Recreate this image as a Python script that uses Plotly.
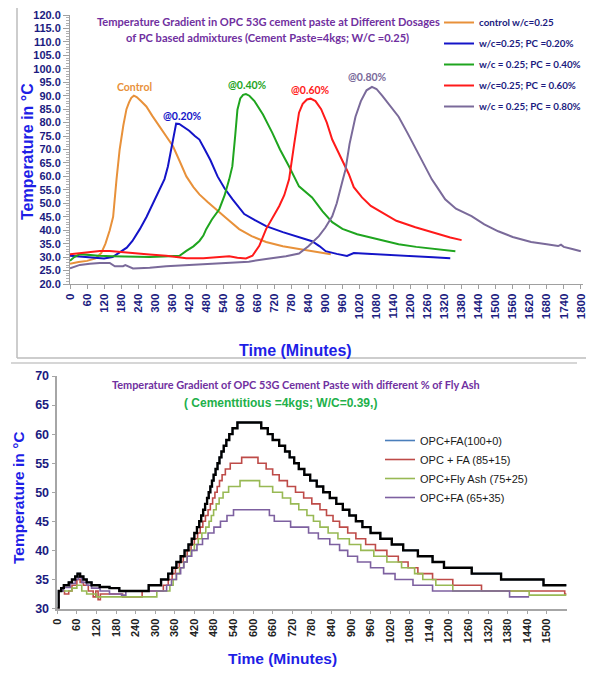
import plotly.graph_objects as go

# page is rendered with the browser's default 8px body margin
PAGE_W, PAGE_H, OFF = 594, 675, 8
W, H = PAGE_W - 2 * OFF, PAGE_H - 2 * OFF

# ---------------- Top chart data (PC admixture dosages) ----------------
ctrl_t = [0, 30, 60, 90, 110, 125, 140, 152, 164, 175, 188, 199, 208, 216, 225, 235, 250, 269, 290, 316,
          340, 363, 385, 410, 435, 456, 485, 516, 550, 596, 640, 691, 750, 807, 860, 919]
ctrl_v = [27.5, 28.2, 28.6, 29.5, 31.5, 35, 40, 45, 59, 70, 79, 85, 87.5, 89.2, 90, 89.5, 88, 86, 82.5, 78.6,
          75, 71.2, 66, 60, 56, 53.3, 50.5, 47.8, 44.5, 40.4, 37.8, 35.6, 34, 33, 32, 31.1]

pc20_t = [0, 30, 60, 90, 120, 150, 180, 200, 220, 246, 270, 290, 304, 318, 333, 345, 356, 366, 374, 385,
          400, 420, 440, 456, 475, 495, 520, 545, 573, 595, 614, 650, 691, 750, 807, 853, 880, 901, 940, 976,
          1000, 1050, 1100, 1158, 1220, 1280, 1340]
pc20_v = [30.5, 30.3, 30, 29.8, 29.5, 30, 32, 33.5, 36, 40.4, 45, 49.5, 52.7, 56, 59, 63.7, 70, 76, 79.6, 79.5,
          78.5, 77, 75, 73.7, 70, 66, 60, 55.5, 51.5, 48.5, 46, 43.8, 41.5, 39.3, 37.4, 35.9, 34, 32.2, 31.2, 30.4,
          31.5, 31.2, 30.8, 30.4, 30.2, 29.9, 29.6]

pc40_t = [0, 15, 35, 60, 100, 150, 200, 250, 281, 330, 386, 410, 435, 456, 470, 480, 500, 526, 545, 561,
          572, 582, 590, 600, 610, 620, 632, 650, 680, 713, 740, 772, 807, 853, 890, 924, 960, 1012, 1060, 1110,
          1158, 1220, 1290, 1358]
pc40_v = [28.6, 30, 31.1, 30.8, 30.5, 30.3, 30.2, 30, 30, 30.2, 30.5, 32.3, 34, 36, 38, 40.4, 44, 47.8, 53, 58.9,
          63.7, 75, 84.8, 89, 90.3, 90.6, 90, 88, 83, 76.2, 70, 63.7, 56.3, 52.2, 47, 43, 40.5, 38.5, 37.3, 36,
          34.8, 33.8, 32.9, 32.2]

pc60_t = [0, 50, 105, 140, 180, 222, 280, 339, 410, 470, 526, 561, 590, 620, 643, 667, 691, 715, 737, 755,
          772, 790, 807, 820, 835, 848, 865, 885, 905, 924, 950, 982, 1000, 1029, 1060, 1098, 1150, 1217, 1290, 1340,
          1380]
pc60_v = [31.1, 31.8, 32.3, 32.3, 32, 31.5, 31, 30.5, 29.6, 29.6, 29.9, 30.3, 29.8, 29.5, 30.5, 34.2, 40.4, 45, 48.9, 53,
          58.9, 72, 83.7, 87, 88.6, 88.9, 88, 85, 80, 73.7, 68, 61, 56, 52.2, 49, 46.7, 43.5, 41.1, 38.8, 37.3,
          36.3]

pc80_t = [0, 35, 70, 105, 140, 158, 187, 195, 222, 281, 339, 400, 456, 520, 573, 630, 691, 761, 807, 840,
          877, 900, 924, 940, 959, 971, 985, 1006, 1025, 1045, 1064, 1080, 1100, 1130, 1158, 1190, 1220, 1250, 1275, 1300,
          1322, 1360, 1415, 1460, 1509, 1560, 1625, 1680, 1720, 1730, 1740, 1770, 1800]
pc80_v = [25.8, 27.1, 27.5, 27.8, 27.8, 26.6, 26.6, 27, 25.8, 26, 26.6, 27, 27.4, 27.6, 27.9, 28.3, 29.3, 30.3, 31.3, 34,
          37.8, 41, 45.2, 50, 57.8, 62.6, 72, 82.2, 88, 92, 93.3, 92.5, 90, 86, 82.2, 76, 70, 64, 58.9, 55,
          51.5, 48, 45.2, 42.2, 39.6, 37.5, 35.6, 34.8, 34.1, 34.6, 33.8, 33, 32.2]

top_names = ["control w/c=0.25", "w/c=0.25; PC =0.20%", "w/c = 0.25; PC = 0.40%",
             "w/c=0.25; PC = 0.60%", "w/c = 0.25; PC = 0.80%"]
top_colors = ["#E8913A", "#1414C8", "#1FA51F", "#FF1A1A", "#7A6A9A"]
top_labels = ["Control", "@0.20%", "@0.40%", "@0.60%", "@0.80%"]
top_label_pos = [(228, 93.3), (396, 82.6), (625, 94.0), (849, 92.2), (1049, 97.0)]
top_xticks = list(range(0, 1801, 60))

# ---------------- Bottom chart data (Fly ash %) ----------------
fa0_t = [0, 4, 12, 20, 35, 45, 55, 62, 70, 80, 90, 105, 130, 160, 190, 265, 280, 318, 340, 352,
         365, 378, 390, 402, 412, 420, 428, 435, 441, 447, 453, 459, 464, 469, 474, 479, 485, 491, 497, 503,
         510, 518, 527, 537, 552, 625, 645, 660, 680, 698, 712, 726, 740, 757, 775, 795, 815, 835, 855, 875,
         895, 915, 935, 960, 990, 1025, 1060, 1105, 1150, 1185, 1270, 1360, 1490, 1560]
fa0_v = [30, 33, 33.5, 34, 34.5, 35, 35.5, 36, 35.5, 35, 34.5, 34, 33.7, 33.5, 33, 33, 34, 35, 36, 37,
         38, 39, 40, 41, 42, 43, 44, 45, 46, 47, 48, 49, 50, 51, 52, 53, 54, 55, 56, 57,
         58, 59, 60, 61, 62, 61, 60, 59, 58, 57, 56, 55, 54, 53, 52, 51, 50, 49, 48, 47,
         46, 45, 44, 43, 42, 41, 40, 39, 38, 37, 36, 35, 34, 34]

fa15_t = [0, 5, 15, 22, 35, 45, 60, 70, 80, 95, 110, 118, 125, 132, 180, 200, 250, 260, 325, 340,
          352, 362, 374, 386, 398, 410, 420, 430, 438, 446, 454, 462, 469, 476, 483, 490, 497, 505, 515, 530,
          565, 615, 640, 660, 680, 705, 730, 755, 780, 805, 825, 845, 865, 890, 915, 945, 975, 1010, 1045, 1075,
          1105, 1150, 1212, 1300, 1555, 1560]
fa15_v = [30, 33, 33, 32.5, 33, 34, 35, 34.5, 34, 33, 32, 33, 31.5, 32.5, 32.5, 32, 32, 33, 34, 35,
          36, 37, 38, 39, 40, 41, 42, 43, 44, 45, 46, 47, 48, 49, 50, 51, 52, 53, 54, 55,
          56, 55, 54, 53, 52, 51, 50, 49, 48, 47, 46, 45, 44, 43, 42, 41, 40, 39, 38, 37,
          36, 35, 34, 33, 32.5, 32.5]

fa25_t = [0, 5, 30, 45, 60, 75, 90, 120, 305, 345, 355, 365, 375, 387, 398, 410, 420, 432, 443, 455,
          465, 472, 479, 487, 496, 508, 525, 560, 620, 660, 690, 715, 740, 765, 785, 805, 830, 860, 895, 930,
          970, 1010, 1055, 1095, 1120, 1160, 1212, 1446, 1560]
fa25_v = [30, 33, 33, 33.5, 34, 33, 32.5, 32, 33, 34, 35, 36, 37, 38, 39, 40, 41, 42, 43, 44,
          45, 46, 47, 48, 49, 50, 51, 52, 51, 50, 49, 48, 47, 46, 45, 44, 43, 42, 41, 40,
          39, 38, 37, 36, 35, 34, 33, 32.3, 32.3]

fa35_t = [0, 5, 18, 40, 55, 64, 75, 90, 105, 131, 160, 197, 210, 335, 350, 365, 378, 388, 398, 412,
          428, 445, 462, 480, 500, 520, 540, 650, 665, 715, 770, 800, 835, 865, 890, 920, 960, 1000, 1035, 1090,
          1150, 1386, 1446]
fa35_v = [30, 33, 33.6, 34.3, 35, 35.3, 34.5, 34, 33.5, 33, 32.5, 32.3, 33, 34, 35, 36, 37, 38, 39, 40,
          41, 42, 43, 44, 45, 46, 47, 46, 45, 44, 43, 42, 41, 40, 39, 38, 37, 36, 35, 34,
          33, 32, 32]

bot_names = ["OPC+FA(100+0)", "OPC + FA (85+15)", "OPC+Fly Ash (75+25)", "OPC+FA (65+35)"]
bot_colors = ["#4A7EBB", "#BE4B48", "#98B954", "#7D60A0"]
bot_xticks = list(range(0, 1501, 60))

# ---------------- Build figure ----------------
NAVY = "#1B1B80"
BLUE = "#1E1EE6"
PURPLE = "#7030A0"
NARROW = "Liberation Sans Narrow, Liberation Sans, Arial"
CAL = "Lato, Open Sans, sans-serif"
ARIAL = "Liberation Sans, Arial"


def px(x):
    return min(1.0, max(0.0, (x - OFF) / W))


def py(y):
    return min(1.0, max(0.0, 1 - (y - OFF) / H))


fig = go.Figure()

top_series = [(ctrl_t, ctrl_v), (pc20_t, pc20_v), (pc40_t, pc40_v), (pc60_t, pc60_v), (pc80_t, pc80_v)]
for i, (t, v) in enumerate(top_series):
    fig.add_trace(go.Scatter(x=t, y=v, mode="lines", name=top_names[i], legendgroup="t%d" % i,
                             line=dict(color=top_colors[i], width=2), xaxis="x", yaxis="y", legend="legend"))

bot_series = [(fa0_t, fa0_v), (fa15_t, fa15_v), (fa25_t, fa25_v), (fa35_t, fa35_v)]
for i, (t, v) in enumerate(bot_series):
    fig.add_trace(go.Scatter(x=t, y=v, mode="lines", name=bot_names[i], legendgroup="b%d" % i,
                             line=dict(color=bot_colors[i], width=1.6, shape="hv"),
                             xaxis="x2", yaxis="y2", legend="legend2"))
# black overlay of the 100+0 series as drawn in the source chart
fig.add_trace(go.Scatter(x=fa0_t, y=fa0_v, mode="lines", showlegend=False,
                         line=dict(color="#000000", width=2.4, shape="hv"), xaxis="x2", yaxis="y2"))

annotations = []
for i, lab in enumerate(top_labels):
    annotations.append(dict(x=top_label_pos[i][0], y=top_label_pos[i][1], xref="x", yref="y",
                            xanchor="center", yanchor="middle",
                            text="<b>%s</b>" % lab, showarrow=False,
                            font=dict(family=CAL, size=10.5, color=top_colors[i])))


def note(x, y, text, font, angle=0):
    return dict(x=px(x), y=py(y), xref="paper", yref="paper", showarrow=False,
                xanchor="center", yanchor="middle", textangle=angle, text=text, font=font)


annotations += [
    note(268, 22, "<b>Temperature Gradient in OPC 53G cement paste at Different Dosages</b>",
         dict(family=CAL, size=11.1, color=PURPLE)),
    note(267, 38, "<b>of PC based admixtures (Cement Paste=4kgs; W/C =0.25)</b>",
         dict(family=CAL, size=11.1, color=PURPLE)),
    note(27, 152, "<b>Temperature in °C</b>", dict(family=NARROW, size=16, color=BLUE), -90),
    note(295, 350, "<b>Time (Minutes)</b>", dict(family=NARROW, size=16, color=BLUE)),
    note(296, 384, "<b>Temperature Gradient of OPC 53G Cement Paste with different % of Fly Ash</b>",
         dict(family=CAL, size=10.9, color=PURPLE)),
    note(280, 403, "<b>( Cementtitious =4kgs; W/C=0.39,)</b>",
         dict(family=NARROW, size=12, color="#22B04A")),
    note(19, 498, "<b>Temperature in °C</b>", dict(family=NARROW, size=15.5, color=BLUE), -90),
    note(282, 658, "<b>Time (Minutes)</b>", dict(family=NARROW, size=15.5, color=BLUE)),
]

shapes = [
    dict(type="line", xref="paper", yref="paper", x0=px(17), x1=px(17), y0=py(8), y1=py(358),
         line=dict(color="#BDBDBD", width=1.5)),
    dict(type="line", xref="paper", yref="paper", x0=px(17), x1=px(594), y0=py(358), y1=py(358),
         line=dict(color="#BDBDBD", width=1.5)),
    dict(type="line", xref="paper", yref="paper", x0=px(11), x1=px(577), y0=py(363), y1=py(363),
         line=dict(color="#C8C8C8", width=1.5)),
]

fig.update_layout(
    width=W, height=H, margin=dict(l=0, r=0, t=0, b=0, pad=0, autoexpand=False),
    paper_bgcolor="white", plot_bgcolor="white",
    annotations=annotations, shapes=shapes,
    xaxis=dict(domain=[px(70), px(582.5)], range=[0, 1806], anchor="y", automargin=False,
               tickmode="array", tickvals=top_xticks, ticktext=[str(v) for v in top_xticks],
               ticklabeloverflow="allow",
               tickangle=-90, tickfont=dict(family=ARIAL, size=11.5, color=NAVY, weight="bold"),
               showline=True, linecolor="#A0A0A0", linewidth=1, ticks="outside", ticklen=4,
               tickcolor="#A0A0A0", showgrid=False, zeroline=False),
    yaxis=dict(domain=[py(284), py(15)], range=[20, 120], anchor="x", automargin=False,
               dtick=5, tick0=20, tickformat=".1f",
               tickfont=dict(family=ARIAL, size=11, color=NAVY, weight="bold"),
               showline=True, linecolor="#A0A0A0", linewidth=1, ticks="outside", ticklen=6,
               tickcolor="#A0A0A0", minor=dict(dtick=1, ticks="outside", ticklen=3, tickcolor="#B0B0B0"),
               showgrid=False, zeroline=False),
    xaxis2=dict(domain=[px(57.3), px(567)], range=[0, 1562], anchor="y2", automargin=False,
                tickmode="array", tickvals=bot_xticks, ticktext=[str(v) for v in bot_xticks],
                tickangle=-90, tickfont=dict(family=ARIAL, size=11, color="#222222", weight="bold"),
                showline=True, linecolor="#A6A6A6", linewidth=1.5, ticks="outside", ticklen=4,
                tickcolor="#A6A6A6", showgrid=False, zeroline=False),
    yaxis2=dict(domain=[py(608.5), py(376)], range=[30, 70], anchor="x2", dtick=5, automargin=False,
                tickfont=dict(family=ARIAL, size=12.5, color=NAVY, weight="bold"),
                showline=True, linecolor="#A6A6A6", linewidth=1.5, ticks="outside", ticklen=4,
                tickcolor="#A6A6A6", showgrid=False, zeroline=False),
    legend=dict(x=px(439), y=1.0, xanchor="left", yanchor="top", bgcolor="rgba(0,0,0,0)",
                font=dict(family=CAL, size=9.8, color=NAVY, weight="bold"), tracegroupgap=2),
    legend2=dict(x=px(380), y=py(426), xanchor="left", yanchor="top", bgcolor="rgba(0,0,0,0)",
                 font=dict(family=ARIAL, size=11, color="#1A1A1A"), tracegroupgap=0),
)

fig.write_html("out.html", config={"displayModeBar": False})
